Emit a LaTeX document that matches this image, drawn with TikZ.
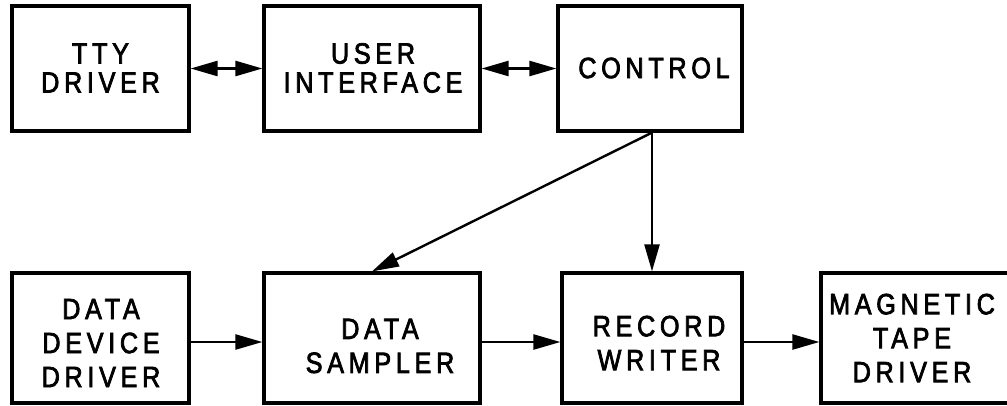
\documentclass[tikz,border=0pt]{standalone}
\usepackage{fontspec}
\setmainfont{Liberation Sans}[FakeBold=2.5, FakeStretch=0.86, LetterSpace=16]
\usetikzlibrary{arrows.meta,calc}

\tikzset{
  blk/.style={draw, line width=3.2pt, rectangle, inner sep=0pt},
  lbl/.style={align=center, inner sep=0pt},
  toprow/.style={lbl, font=\fontsize{29.3}{29}\selectfont},
  botrow/.style={lbl, font=\fontsize{29.3}{34}\selectfont},
  flow/.style={line width=2.4pt, -{Triangle[length=27pt,width=15pt]}},
  both/.style={line width=2.4pt, {Triangle[length=27pt,width=15pt]}-{Triangle[length=27pt,width=15pt]}},
}

\begin{document}
\begin{tikzpicture}[x=1pt, y=-1pt]
  \useasboundingbox (0,0) rectangle (1007,405);

  % upper row of blocks
  \node[blk, minimum width=177pt, minimum height=125pt] (tty)  at (100.5,68.5) {};
  \node[blk, minimum width=216pt, minimum height=125pt] (ui)   at (372,68.5)   {};
  \node[blk, minimum width=184pt, minimum height=125pt] (ctrl) at (650,68.5)   {};

  % lower row of blocks
  \node[blk, minimum width=177pt, minimum height=130pt] (ddd) at (100.5,338) {};
  \node[blk, minimum width=216pt, minimum height=130pt] (ds)  at (372,338)   {};
  \node[blk, minimum width=180pt, minimum height=130pt] (rw)  at (652,338)   {};
  \node[blk, minimum width=192pt, minimum height=130pt] (mtd) at (917,338)   {};

  % block labels
  \node[toprow] (ttyT)  at (100.5,68) {TTY\\DRIVER};
  \node[toprow] (uiT)   at (373,68)   {USER\\INTERFACE};
  \node[toprow] (ctrlT) at (654,68)   {CONTROL};
  \node[botrow] (dddT)  at (101,343)  {DATA\\DEVICE\\DRIVER};
  \node[botrow] (dsT)   at (380,346)  {DATA\\SAMPLER};
  \node[botrow] (rwT)   at (659,343)  {RECORD\\WRITER};
  \node[botrow] (mtdT)  at (912,338)  {MAGNETIC\\TAPE\\DRIVER};

  % connections
  \draw[both] (tty.east) -- (ui.west);
  \draw[both] (ui.east) -- (ctrl.west);
  \coordinate (fork) at (rw.north |- ctrl.south);
  \draw[flow] (fork) -- (ds.north);
  \draw[flow] (fork) -- (rw.north);
  \draw[flow] ([yshift=-4pt]ddd.east) -- ([yshift=-4pt]ds.west);
  \draw[flow] ([yshift=-4pt]ds.east) -- ([yshift=-4pt]rw.west);
  \draw[flow] ([yshift=-4pt]rw.east) -- ([yshift=-4pt]mtd.west);
\end{tikzpicture}
\end{document}
